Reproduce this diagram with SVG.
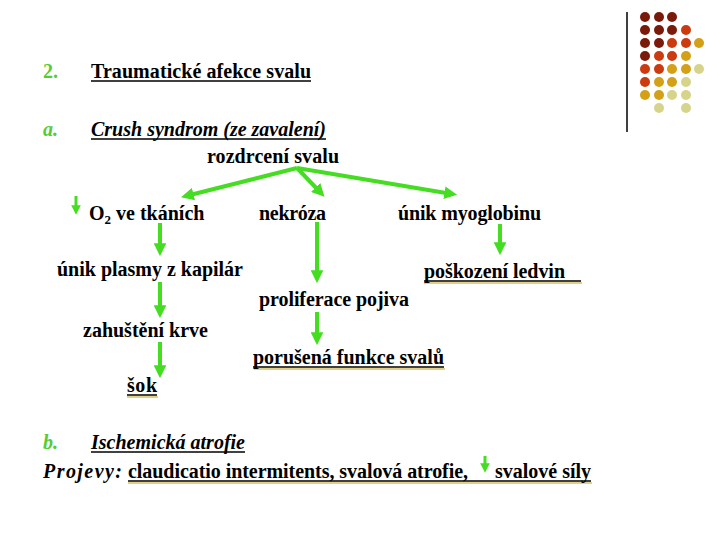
<svg xmlns="http://www.w3.org/2000/svg" width="720" height="540" viewBox="0 0 720 540">
<defs>
<style>
.i{font-style:italic}
.g{fill:#55cc33}
.ul{stroke:#000;stroke-width:1.5}
.sh{stroke:#d8c060;stroke-width:1.5}
.ar{stroke:#44dd22;stroke-width:4;fill:none;marker-end:url(#ah)}
.sa{stroke:#44dd22;stroke-width:3;fill:none;marker-end:url(#ah)}
.dr{fill:#7a1a0a}.or{fill:#cc3a10}.go{fill:#d4a017}.pa{fill:#d6d48a}
</style>
<marker id="ah" viewBox="0 0 10 10" refX="6" refY="5" markerWidth="3.2" markerHeight="3.2" orient="auto" markerUnits="strokeWidth">
<path d="M0,0 L10,5 L0,10 Z" fill="#44dd22"/>
</marker>
</defs>
<rect width="720" height="540" fill="#fff"/>
<g id="decor">
<line x1="627" y1="12" x2="627" y2="132" stroke="#000" stroke-width="1.5"/>
<g>
<circle class="dr" cx="645" cy="17" r="5"/><circle class="dr" cx="659" cy="17" r="5"/><circle class="dr" cx="672" cy="17" r="5"/>
<circle class="dr" cx="645" cy="30" r="5"/><circle class="dr" cx="659" cy="30" r="5"/><circle class="dr" cx="672" cy="30" r="5"/><circle class="or" cx="686" cy="30" r="5"/>
<circle class="dr" cx="645" cy="43" r="5"/><circle class="dr" cx="659" cy="43" r="5"/><circle class="or" cx="672" cy="43" r="5"/><circle class="or" cx="686" cy="43" r="5"/><circle class="go" cx="699" cy="43" r="5"/>
<circle class="dr" cx="645" cy="56" r="5"/><circle class="or" cx="659" cy="56" r="5"/><circle class="or" cx="672" cy="56" r="5"/><circle class="go" cx="686" cy="56" r="5"/>
<circle class="or" cx="645" cy="69" r="5"/><circle class="or" cx="659" cy="69" r="5"/><circle class="go" cx="672" cy="69" r="5"/><circle class="go" cx="686" cy="69" r="5"/><circle class="pa" cx="699" cy="69" r="5"/>
<circle class="or" cx="645" cy="82" r="5"/><circle class="go" cx="659" cy="82" r="5"/><circle class="go" cx="672" cy="82" r="5"/><circle class="pa" cx="686" cy="82" r="5"/>
<circle class="go" cx="645" cy="95" r="5"/><circle class="go" cx="659" cy="95" r="5"/><circle class="pa" cx="672" cy="95" r="5"/><circle class="pa" cx="686" cy="95" r="5"/>
<circle class="pa" cx="659" cy="108" r="5"/><circle class="pa" cx="686" cy="108" r="5"/>
</g>
</g>
<g font-family="Liberation Serif" font-weight="bold" font-size="20" fill="#000">
<g id="headings">
<text class="g" x="43" y="78" style="font-family:'Liberation Serif',serif">2.</text>
<text x="91" y="78" textLength="220" lengthAdjust="spacing" style="font-family:'Liberation Serif',serif">Traumatické afekce svalu</text>
<line class="ul" x1="91" y1="81" x2="311" y2="81"/>
<text class="i g" x="43" y="136" style="font-family:'Liberation Serif',serif">a.</text>
<text class="i" x="91" y="136" textLength="235" lengthAdjust="spacing" style="font-family:'Liberation Serif',serif">Crush syndrom (ze zavalení)</text>
<line class="ul" x1="91" y1="139" x2="326" y2="139"/>
<text class="i g" x="43" y="449" style="font-family:'Liberation Serif',serif">b.</text>
<text class="i" x="91" y="449" textLength="154" lengthAdjust="spacing" style="font-family:'Liberation Serif',serif">Ischemická atrofie</text>
<line class="ul" x1="91" y1="452" x2="245" y2="452"/>
</g>
<g id="n-rozdrceni"><text x="207" y="163" textLength="132" lengthAdjust="spacing" style="font-family:'Liberation Serif',serif">rozdrcení svalu</text></g>
<g id="n-o2">
<line class="sa" x1="76" y1="196" x2="76" y2="211"/>
<text x="89" y="220" style="font-family:'Liberation Serif',serif">O<tspan font-size="13" dy="4">2</tspan><tspan dy="-4"> ve tkáních</tspan></text>
</g>
<g id="n-nekroza"><text x="259" y="220" textLength="67" lengthAdjust="spacing" style="font-family:'Liberation Serif',serif">nekróza</text></g>
<g id="n-myoglobin"><text x="398" y="220" textLength="143" lengthAdjust="spacing" style="font-family:'Liberation Serif',serif">únik myoglobinu</text></g>
<g id="n-plasma"><text x="57" y="276" textLength="186" lengthAdjust="spacing" style="font-family:'Liberation Serif',serif">únik plasmy z kapilár</text></g>
<g id="n-zahusteni"><text x="83" y="337" textLength="125" lengthAdjust="spacing" style="font-family:'Liberation Serif',serif">zahuštění krve</text></g>
<g id="n-sok">
<line class="sh" x1="127" y1="397" x2="158" y2="397"/>
<text x="127" y="392" textLength="30" lengthAdjust="spacing" style="font-family:'Liberation Serif',serif">šok</text>
<line class="ul" x1="127" y1="395" x2="157" y2="395"/>
</g>
<g id="n-ledvin">
<line class="sh" x1="424" y1="283" x2="582" y2="283"/>
<text x="424" y="278" textLength="141" lengthAdjust="spacing" style="font-family:'Liberation Serif',serif">poškození ledvin</text>
<line class="ul" x1="424" y1="281" x2="581" y2="281"/>
</g>
<g id="n-proliferace"><text x="259" y="306" textLength="150" lengthAdjust="spacing" style="font-family:'Liberation Serif',serif">proliferace pojiva</text></g>
<g id="n-porusena">
<line class="sh" x1="254" y1="369" x2="445" y2="369"/>
<text x="253" y="364" textLength="191" lengthAdjust="spacing" style="font-family:'Liberation Serif',serif">porušená funkce svalů</text>
<line class="ul" x1="253" y1="367" x2="444" y2="367"/>
</g>
<g id="projevy">
<text class="i" x="43" y="478" textLength="79" lengthAdjust="spacing" style="font-family:'Liberation Serif',serif">Projevy:</text>
<line class="sh" x1="128" y1="483" x2="592" y2="483"/>
<text x="128" y="478" textLength="340" lengthAdjust="spacing" style="font-family:'Liberation Serif',serif">claudicatio intermitents, svalová atrofie,</text>
<line class="sa" x1="485" y1="456" x2="485" y2="469"/>
<text x="495" y="478" textLength="96" lengthAdjust="spacing" style="font-family:'Liberation Serif',serif">svalové síly</text>
<line class="ul" x1="128" y1="481" x2="591" y2="481"/>
</g>
</g>
<g id="connectors">
<line class="ar" x1="297" y1="168" x2="186" y2="196"/>
<line class="ar" x1="297" y1="168" x2="321" y2="193"/>
<line class="ar" x1="297" y1="168" x2="452" y2="194"/>
<line class="ar" x1="160" y1="223" x2="160" y2="251"/>
<line class="ar" x1="160" y1="282" x2="160" y2="313"/>
<line class="ar" x1="160" y1="342" x2="160" y2="373"/>
<line class="ar" x1="317" y1="222" x2="317" y2="278"/>
<line class="ar" x1="317" y1="312" x2="317" y2="340"/>
<line class="ar" x1="500" y1="224" x2="500" y2="250"/>
</g>
</svg>
